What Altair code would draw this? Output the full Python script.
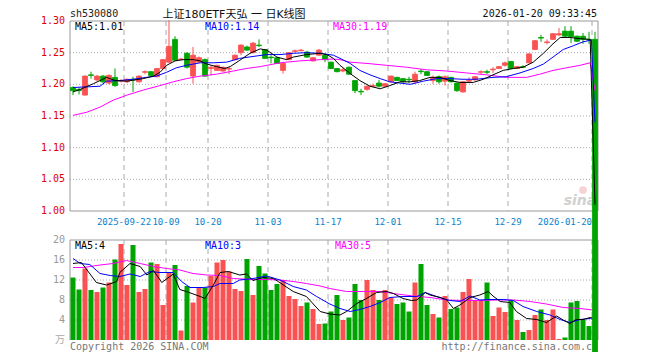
import altair as alt
import pandas as pd

# ---------------- data ----------------
opens = [1.195, 1.192, 1.183, 1.215, 1.207, 1.213, 1.202, 1.211, 1.205, 1.204,
         1.208, 1.204, 1.219, 1.220, 1.212, 1.225, 1.235, 1.271, 1.239, 1.249,
         1.213, 1.235, 1.239, 1.225, 1.222, 1.221, 1.224, 1.239, 1.250, 1.259,
         1.250, 1.262, 1.255, 1.243, 1.242, 1.222, 1.239, 1.252, 1.253, 1.251,
         1.237, 1.246, 1.246, 1.235, 1.225, 1.221, 1.227, 1.206, 1.189, 1.192,
         1.197, 1.202, 1.197, 1.204, 1.211, 1.209, 1.208, 1.204, 1.221, 1.220,
         1.206, 1.212, 1.205, 1.211, 1.202, 1.188, 1.205, 1.207, 1.219, 1.220,
         1.223, 1.225, 1.230, 1.236, 1.225, 1.228, 1.234, 1.255, 1.274, 1.266,
         1.271, 1.278, 1.284, 1.284, 1.276, 1.276, 1.271, 1.271]
highs = [1.197, 1.195, 1.214, 1.220, 1.215, 1.215, 1.216, 1.225, 1.208, 1.209,
         1.212, 1.214, 1.222, 1.221, 1.226, 1.240, 1.301, 1.276, 1.242, 1.251,
         1.259, 1.244, 1.241, 1.230, 1.231, 1.228, 1.228, 1.247, 1.263, 1.261,
         1.267, 1.271, 1.256, 1.246, 1.243, 1.234, 1.251, 1.255, 1.256, 1.253,
         1.243, 1.256, 1.248, 1.236, 1.226, 1.226, 1.228, 1.207, 1.193, 1.198,
         1.201, 1.207, 1.202, 1.214, 1.212, 1.210, 1.212, 1.220, 1.224, 1.221,
         1.214, 1.214, 1.214, 1.212, 1.203, 1.205, 1.211, 1.213, 1.222, 1.223,
         1.227, 1.229, 1.236, 1.237, 1.229, 1.230, 1.249, 1.270, 1.278, 1.271,
         1.281, 1.289, 1.292, 1.292, 1.277, 1.281, 1.283, 1.283]
lows = [1.183, 1.184, 1.182, 1.209, 1.205, 1.202, 1.200, 1.196, 1.203, 1.202,
        1.188, 1.203, 1.216, 1.213, 1.211, 1.224, 1.234, 1.237, 1.238, 1.225,
        1.201, 1.234, 1.212, 1.214, 1.221, 1.220, 1.216, 1.238, 1.246, 1.253,
        1.249, 1.259, 1.240, 1.233, 1.232, 1.217, 1.238, 1.250, 1.252, 1.242,
        1.236, 1.245, 1.235, 1.224, 1.219, 1.219, 1.215, 1.186, 1.183, 1.190,
        1.195, 1.195, 1.196, 1.203, 1.205, 1.203, 1.202, 1.201, 1.216, 1.213,
        1.201, 1.201, 1.198, 1.203, 1.188, 1.187, 1.202, 1.206, 1.216, 1.216,
        1.218, 1.224, 1.228, 1.224, 1.224, 1.226, 1.233, 1.254, 1.267, 1.263,
        1.270, 1.276, 1.275, 1.265, 1.267, 1.264, 1.264, 0.0]
closes = [1.190, 1.190, 1.213, 1.214, 1.213, 1.204, 1.214, 1.198, 1.206, 1.208,
          1.207, 1.213, 1.220, 1.214, 1.225, 1.239, 1.260, 1.238, 1.240, 1.227,
          1.246, 1.242, 1.213, 1.227, 1.230, 1.227, 1.225, 1.246, 1.262, 1.254,
          1.265, 1.261, 1.241, 1.242, 1.233, 1.233, 1.250, 1.253, 1.254, 1.243,
          1.242, 1.254, 1.239, 1.225, 1.220, 1.223, 1.216, 1.190, 1.188, 1.197,
          1.198, 1.197, 1.201, 1.213, 1.206, 1.204, 1.207, 1.216, 1.220, 1.214,
          1.211, 1.204, 1.212, 1.204, 1.190, 1.204, 1.206, 1.212, 1.220, 1.219,
          1.224, 1.228, 1.234, 1.225, 1.228, 1.227, 1.248, 1.269, 1.273, 1.267,
          1.280, 1.280, 1.276, 1.275, 1.268, 1.271, 1.270, 0.0]
volumes = [12.5, 10.1, 14.3, 10.0, 9.6, 10.5, 11.5, 16.1, 19.2, 11.0,
           19.0, 9.6, 10.2, 15.5, 15.2, 7.0, 13.5, 15.0, 1.9, 10.8,
           7.5, 10.5, 10.5, 12.8, 15.5, 16.0, 13.7, 10.2, 9.8, 16.2,
           9.0, 14.8, 13.3, 10.0, 11.2, 12.0, 8.8, 8.2, 6.8, 7.5,
           6.2, 3.2, 3.3, 5.7, 9.0, 4.0, 4.5, 11.2, 8.0, 12.0,
           10.0, 8.0, 10.0, 8.5, 7.2, 7.5, 5.7, 11.5, 15.2, 7.0,
           5.2, 4.5, 8.8, 6.2, 6.5, 9.6, 12.2, 8.0, 8.0, 11.5,
           4.8, 6.5, 5.6, 8.0, 4.0, 1.6, 2.0, 5.0, 6.1, 4.0,
           6.1, 0.2, 0.5, 7.5, 7.8, 4.0, 2.8, 1.0]

# price moving averages (slot position, value)
ma5_pos = [0, 1.2, 3.4, 5.6, 7, 9, 11.7, 13.4, 14.5, 15.6, 17, 18.4, 20, 21.2, 22.3, 23.9,
           25.3, 26.2, 27.8, 29.5, 31.2, 32.3, 34, 35.6, 36.7, 38.9, 41.2, 42.3, 43.4, 44.5,
           46.2, 47.8, 49.5, 51.2, 52.8, 54.5, 56.2, 57.8, 59.5, 61.2, 62.8, 64.5, 66.7, 68.4,
           70, 71.7, 73.4, 75, 76.7, 78.4, 80, 81.2, 82.8, 84.5, 86.2, 87]
ma5_val = [1.188, 1.192, 1.201, 1.211, 1.206, 1.205, 1.209, 1.213, 1.219, 1.230, 1.237, 1.239,
           1.239, 1.237, 1.232, 1.228, 1.225, 1.228, 1.238, 1.249, 1.256, 1.254, 1.243, 1.239,
           1.243, 1.247, 1.249, 1.247, 1.241, 1.230, 1.217, 1.206, 1.197, 1.193, 1.198, 1.204,
           1.204, 1.206, 1.211, 1.211, 1.206, 1.203, 1.203, 1.208, 1.215, 1.222, 1.225, 1.227,
           1.235, 1.249, 1.264, 1.274, 1.274, 1.272, 1.271, 1.01]
ma10_pos = [0, 2.3, 4.5, 5.6, 7.8, 10, 12.2, 13.9, 15.6, 17.2, 18.9, 21.2, 23.4, 25.6, 27.8, 30,
            32.3, 34.5, 36.7, 38.9, 41.2, 43.4, 44.5, 46.2, 47.8, 49.5, 51.2, 52.8, 54.5, 56.2,
            58.4, 60.6, 62.8, 65, 67.2, 70, 72.2, 74.5, 76.7, 78.4, 80, 81.7, 83.4, 85, 86.4, 87]
ma10_val = [1.195, 1.196, 1.197, 1.205, 1.206, 1.208, 1.211, 1.213, 1.219, 1.226, 1.230, 1.234,
            1.234, 1.235, 1.241, 1.244, 1.247, 1.247, 1.249, 1.250, 1.249, 1.246, 1.241, 1.233,
            1.222, 1.215, 1.209, 1.204, 1.202, 1.200, 1.205, 1.209, 1.209, 1.208, 1.208, 1.211,
            1.212, 1.218, 1.225, 1.232, 1.243, 1.255, 1.261, 1.267, 1.270, 1.14]
ma30_pos = [0, 2.3, 4.5, 6.7, 9, 11.7, 14.5, 16.7, 18.9, 21.2, 23.9, 26.7, 28.9, 31.2, 34.5,
            37.8, 41.2, 43.4, 44.5, 46.2, 49, 52.3, 55.6, 58.9, 62.3, 65.6, 68.9, 72.2, 75.6,
            77.8, 80, 82.2, 84.5, 86.2, 87]
ma30_val = [1.151, 1.156, 1.164, 1.175, 1.183, 1.191, 1.198, 1.204, 1.209, 1.213, 1.216, 1.221,
            1.225, 1.228, 1.234, 1.237, 1.239, 1.240, 1.239, 1.235, 1.233, 1.230, 1.227, 1.223,
            1.221, 1.218, 1.215, 1.211, 1.211, 1.216, 1.222, 1.226, 1.230, 1.234, 1.19]

# volume moving averages
vma5_pos = [0, 1.4, 3.9, 5.6, 7.3, 7.8, 9.5, 11.2, 12.3, 13.4, 14.8, 16.7, 17.8, 18.9, 21.2, 22,
            23.4, 24.5, 25.9, 27.8, 28.9, 30, 31.7, 33.4, 34.2, 36.7, 38.9, 41.2, 42.8, 44.5,
            45.6, 47.3, 48.9, 50.6, 52.3, 53.4, 55, 56.4, 57.3, 58.7, 59.5, 61.2, 62.3, 63.4,
            64.5, 66.2, 67.8, 69.2, 70, 71.2, 72.8, 73.9, 75.6, 77.3, 78.9, 80.6, 81.7, 82.8,
            83.9, 85, 86.2, 87]
vma5_val = [15.3, 15.5, 11.5, 11.0, 11.7, 13.5, 15.3, 14.7, 13.0, 13.9, 11.5, 13.2, 10.1, 9.7,
            8.7, 8.3, 11.0, 13.5, 13.7, 13.0, 13.2, 11.9, 12.5, 12.3, 11.7, 9.7, 8.7, 5.7, 5.2,
            5.0, 5.7, 7.3, 8.3, 9.5, 9.7, 9.3, 8.3, 7.9, 8.0, 9.5, 9.0, 8.5, 8.0, 6.3, 7.0, 8.5,
            9.0, 9.7, 8.8, 7.7, 7.5, 5.7, 4.3, 4.1, 3.5, 4.8, 4.0, 3.3, 4.1, 4.1, 4.5, 4.3]
vma10_pos = [0, 1.2, 2.8, 4.5, 6.2, 7.8, 9.5, 11.2, 12.8, 14.5, 16.7, 18.1, 19.5, 21.7, 23.4,
             24.5, 26.7, 27.8, 30, 32.3, 34.5, 36.7, 38.9, 40.6, 42.8, 44.5, 46.2, 47.8, 49.5,
             51.2, 52.8, 55, 57.3, 58.7, 60.6, 62.8, 64.5, 66.2, 67.8, 69.5, 71.7, 73.4, 75,
             77.3, 79.5, 81.2, 82.8, 84.5, 86.2, 87]
vma10_val = [16.3, 15.3, 15.1, 13.3, 12.9, 12.7, 13.2, 12.7, 13.7, 13.5, 13.5, 11.7, 10.5, 10.5,
             10.7, 11.3, 11.3, 12.0, 12.3, 12.8, 12.0, 10.7, 10.0, 8.7, 7.2, 6.3, 5.7, 6.1, 6.7,
             7.5, 8.5, 8.7, 8.7, 9.5, 8.7, 7.9, 7.7, 8.8, 8.0, 8.1, 8.1, 7.9, 6.7, 5.7, 5.0, 4.1,
             3.5, 4.1, 4.3, 4.0]
vma30_pos = [0, 1.7, 4.5, 6.7, 8.9, 11.2, 13.4, 15.6, 17.8, 20, 22.3, 24.5, 26.7, 30, 32.3,
             34.5, 36.7, 38.9, 41.2, 42.8, 45.6, 48.4, 51.2, 54, 56.7, 59.5, 62.3, 65, 67.8,
             70.6, 73.4, 76.2, 78.9, 81.7, 84.5, 86.7, 87]
vma30_val = [14.5, 14.5, 15.0, 15.3, 15.9, 15.3, 14.7, 14.3, 14.0, 13.3, 13.0, 12.9, 12.3, 12.1,
             12.1, 12.0, 11.7, 11.3, 10.8, 10.3, 9.7, 9.7, 9.7, 9.2, 8.8, 8.5, 8.0, 7.9, 7.9,
             8.0, 8.0, 7.7, 7.2, 6.5, 6.3, 6.0, 5.9]

date_ticks = [9, 16, 23, 33, 43, 53, 63, 73, 87]
date_labels = ['2025-09-22', '10-09', '10-20', '11-03', '11-17', '12-01', '12-15', '12-29', '2026-01-20']
price_ticks = [1.00, 1.05, 1.10, 1.15, 1.20, 1.25, 1.30]
price_labels = ['1.00', '1.05', '1.10', '1.15', '1.20', '1.25', '1.30']
price_dotted = [1.05, 1.10, 1.15, 1.20, 1.25]
vol_ticks = [4, 8, 12, 16, 20]
vol_labels = ['4', '8', '12', '16', '20']
vol_dotted = [4, 8, 12, 16]

code_text = 'sh530080'
title_text = '上证180ETF天弘 一 日K线图'
time_text = '2026-01-20 09:33:45'
price_ma_labels = ['MA5:1.01', 'MA10:1.14', 'MA30:1.19']
vol_ma_labels = ['MA5:4', 'MA10:3', 'MA30:5']
unit_text = '万'
copyright_text = 'Copyright 2026 SINA.COM'
url_text = 'http://finance.sina.com.cn'

# ---------------- styling ----------------
W, H = 528, 319
P_TOP, P_BOT = 0, 190
V_TOP, V_BOT = 219, 319
RED, GREEN = '#fa5252', '#00a400'
MONO = 'DejaVu Sans Mono'
GRID = '#aaaaaa'
FRAME = '#999999'

n = len(opens)
df = pd.DataFrame({'i': list(range(n)), 'open': opens, 'high': highs, 'low': lows,
                   'close': closes, 'vol': volumes})
df['xc'] = df['i'] + 0.5
df['x0'] = df['i'] + 0.08
df['x1'] = df['i'] + 0.92
df['dir'] = ['up' if c >= o else 'down' for o, c in zip(opens, closes)]

xscale = alt.Scale(domain=[0, 88], nice=False, zero=False)
pscale = alt.Scale(domain=[1.0, 1.3], range=[P_BOT, P_TOP], nice=False, zero=False)
vscale = alt.Scale(domain=[0, 20], range=[V_BOT, V_TOP], nice=False, zero=False)
cscale = alt.Scale(domain=['up', 'down'], range=[RED, GREEN])


def line_df(pos, val):
    d = pd.DataFrame({'pos': pos, 'v': val})
    d['x'] = d['pos'] + 0.5
    return d


def text_layer(s, x, y, color, size=10, font=MONO, align='left', **kw):
    return alt.Chart(pd.DataFrame({'t': [s]})).mark_text(
        align=align, baseline='middle', font=font, fontSize=size, color=color, **kw
    ).encode(text='t:N', x=alt.value(x), y=alt.value(y))


def ma_line(pos, val, color, scale):
    return alt.Chart(line_df(pos, val)).mark_line(color=color, strokeWidth=1).encode(
        x=alt.X('x:Q', scale=xscale, axis=None),
        y=alt.Y('v:Q', scale=scale, axis=None))


one = pd.DataFrame({'k': [0]})

# ---------------- price panel ----------------
p_hgrid = alt.Chart(pd.DataFrame({'y': price_dotted})).mark_rule(
    color=GRID, strokeDash=[1, 2], strokeWidth=1).encode(
    y=alt.Y('y:Q', scale=pscale, axis=None), x=alt.value(0), x2=alt.value(W))
p_frame_h = alt.Chart(pd.DataFrame({'y': [1.00, 1.30]})).mark_rule(color=FRAME).encode(
    y=alt.Y('y:Q', scale=pscale, axis=None), x=alt.value(0), x2=alt.value(W))
p_vgrid = alt.Chart(pd.DataFrame({'t': date_ticks})).mark_rule(
    color=GRID, strokeDash=[5, 4]).encode(
    x=alt.X('t:Q', scale=xscale, axis=None), y=alt.value(P_TOP), y2=alt.value(P_BOT))
p_left = alt.Chart(one).mark_rule(color=FRAME).encode(
    x=alt.value(0), y=alt.value(P_TOP), y2=alt.value(P_BOT))
p_right = alt.Chart(one).mark_rule(color=FRAME).encode(
    x=alt.value(W), y=alt.value(P_TOP), y2=alt.value(P_BOT))

p_ylabels = alt.Chart(pd.DataFrame({'v': price_ticks, 'lab': price_labels})).mark_text(
    align='right', baseline='middle', font=MONO, fontSize=10, color='#e00000').encode(
    y=alt.Y('v:Q', scale=pscale, axis=None), x=alt.value(-5), text='lab:N')

dates_df = pd.DataFrame({'t': date_ticks, 'lab': date_labels})
d_center = alt.Chart(dates_df.iloc[:-1]).mark_text(
    align='center', baseline='middle', font=MONO, fontSize=9, color='#0a82d0').encode(
    x=alt.X('t:Q', scale=xscale, axis=None), y=alt.value(P_BOT + 11), text='lab:N')
d_right = alt.Chart(dates_df.iloc[-1:]).mark_text(
    align='right', baseline='middle', font=MONO, fontSize=9, color='#0a82d0').encode(
    x=alt.X('t:Q', scale=xscale, axis=None), y=alt.value(P_BOT + 11), text='lab:N')

wick = alt.Chart(df).mark_rule(strokeWidth=1).encode(
    x=alt.X('xc:Q', scale=xscale, axis=None),
    y=alt.Y('low:Q', scale=pscale, axis=None), y2='high:Q',
    color=alt.Color('dir:N', scale=cscale, legend=None))
body = alt.Chart(df).mark_bar(strokeWidth=0.8).encode(
    x=alt.X('x0:Q', scale=xscale, axis=None), x2='x1:Q',
    y=alt.Y('open:Q', scale=pscale, axis=None), y2='close:Q',
    color=alt.Color('dir:N', scale=cscale, legend=None),
    stroke=alt.Stroke('dir:N', scale=cscale, legend=None))

p_lines = [ma_line(ma30_pos, ma30_val, '#ff00ff', pscale),
           ma_line(ma10_pos, ma10_val, '#0000ff', pscale),
           ma_line(ma5_pos, ma5_val, '#000000', pscale)]

p_texts = [
    text_layer(code_text, 0, -7, '#222222', size=10),
    text_layer(title_text, 164, -6, '#111111', size=11,
               font='DejaVu Sans, Noto Sans CJK SC', align='center'),
    text_layer(time_text, 527, -7, '#111111', size=10, align='right'),
    text_layer(price_ma_labels[0], 5, 6, '#000000'),
    text_layer(price_ma_labels[1], 135, 6, '#0000ff'),
    text_layer(price_ma_labels[2], 263, 6, '#ff00ff'),
    text_layer('sina', 510, 180, '#d0d0d0', size=14, font='DejaVu Sans', align='center',
               fontStyle='italic', fontWeight='bold'),
]
logo = alt.Chart(one).mark_point(filled=True, color='#f5c8c8', size=60, opacity=0.8).encode(
    x=alt.value(513), y=alt.value(169))

price = alt.layer(p_hgrid, p_frame_h, p_vgrid, p_left, p_right, p_ylabels, d_center, d_right,
                  logo, *p_texts, wick, body, *p_lines)

# ---------------- volume panel ----------------
v_hgrid = alt.Chart(pd.DataFrame({'y': vol_dotted})).mark_rule(
    color=GRID, strokeDash=[1, 2]).encode(
    y=alt.Y('y:Q', scale=vscale, axis=None), x=alt.value(0), x2=alt.value(W))
v_top = alt.Chart(pd.DataFrame({'y': [20]})).mark_rule(color=FRAME).encode(
    y=alt.Y('y:Q', scale=vscale, axis=None), x=alt.value(0), x2=alt.value(W))
v_vgrid = alt.Chart(pd.DataFrame({'t': date_ticks})).mark_rule(
    color=GRID, strokeDash=[5, 4]).encode(
    x=alt.X('t:Q', scale=xscale, axis=None), y=alt.value(V_TOP), y2=alt.value(V_BOT))
v_left = alt.Chart(one).mark_rule(color=FRAME).encode(
    x=alt.value(0), y=alt.value(V_TOP), y2=alt.value(V_BOT))
v_right = alt.Chart(one).mark_rule(color=FRAME).encode(
    x=alt.value(W), y=alt.value(V_TOP), y2=alt.value(V_BOT))
v_ylabels = alt.Chart(pd.DataFrame({'v': vol_ticks, 'lab': vol_labels})).mark_text(
    align='right', baseline='middle', font=MONO, fontSize=10, color='#999999').encode(
    y=alt.Y('v:Q', scale=vscale, axis=None), x=alt.value(-5), text='lab:N')
vbars = alt.Chart(df).mark_bar().encode(
    x=alt.X('x0:Q', scale=xscale, axis=None), x2='x1:Q',
    y=alt.Y('vol:Q', scale=vscale, axis=None), y2=alt.datum(0),
    color=alt.Color('dir:N', scale=cscale, legend=None))
v_lines = [ma_line(vma30_pos, vma30_val, '#ff00ff', vscale),
           ma_line(vma10_pos, vma10_val, '#0000ff', vscale),
           ma_line(vma5_pos, vma5_val, '#000000', vscale)]
v_texts = [
    text_layer(vol_ma_labels[0], 5, 225, '#000000'),
    text_layer(vol_ma_labels[1], 135, 225, '#0000ff'),
    text_layer(vol_ma_labels[2], 265, 225, '#ff00ff'),
    text_layer(unit_text, -5, 319, '#aaaaaa', size=10, font='Noto Sans CJK SC', align='right'),
    text_layer(copyright_text, 0, 326, '#777777'),
    text_layer(url_text, 528, 326, '#777777', align='right'),
]
volume = alt.layer(v_hgrid, v_top, v_vgrid, v_left, v_right, v_ylabels, *v_texts, vbars, *v_lines)

chart = alt.layer(volume, price).resolve_scale(y='independent').properties(
    width=W, height=H,
    autosize=alt.AutoSizeParams(type='none'),
    padding={'left': 62, 'top': 13, 'right': 50, 'bottom': 12},
    background='white',
).configure_view(strokeWidth=0)

chart.save('out.html', embed_options={'renderer': 'svg', 'actions': False})
